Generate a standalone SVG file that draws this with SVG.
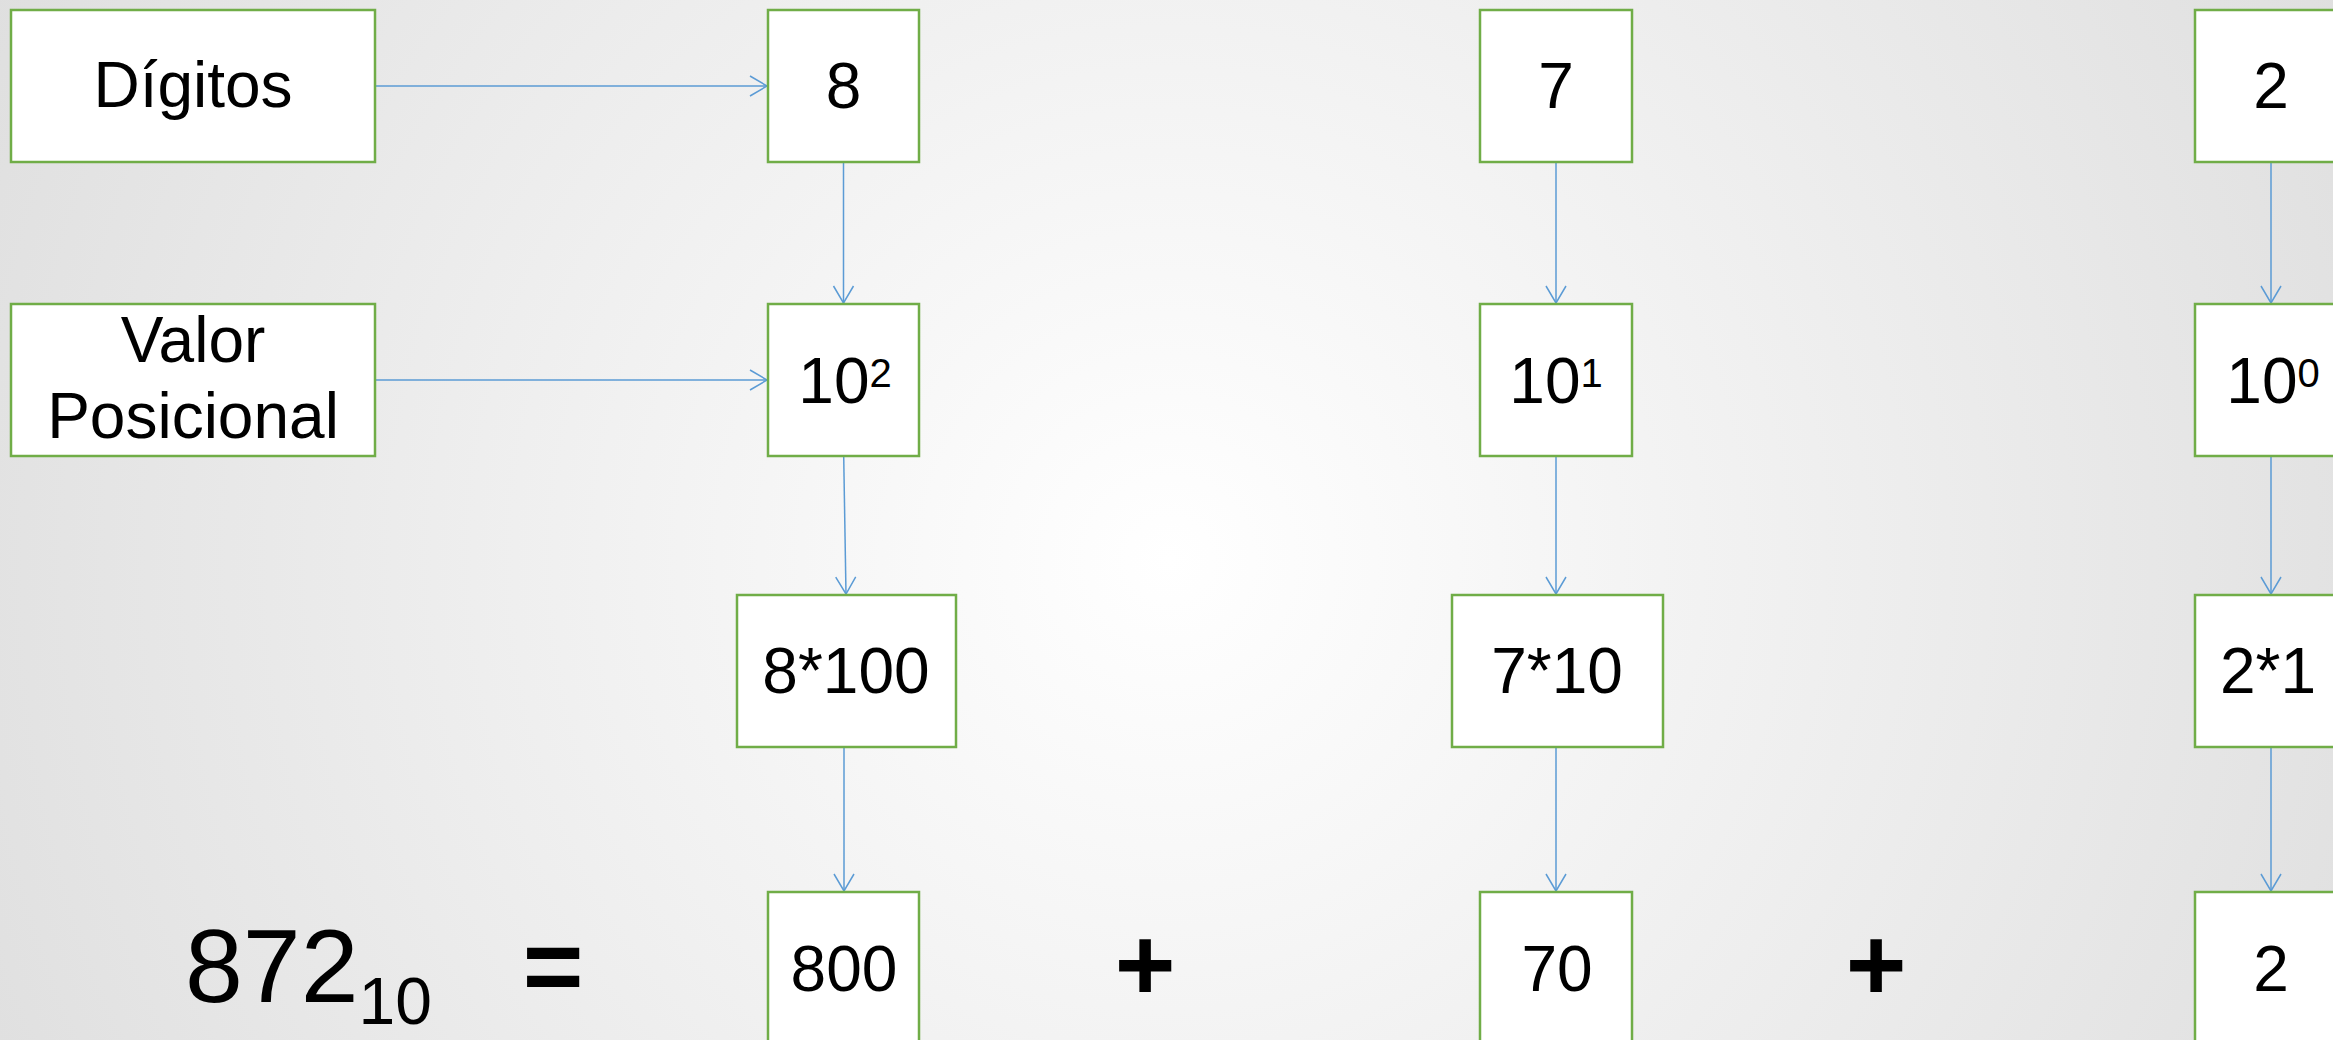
<svg xmlns="http://www.w3.org/2000/svg" width="2333" height="1040" viewBox="0 0 2333 1040">
<style>
.box{fill:#FFFFFF;stroke:#70AD47;stroke-width:2.5}
.t{font-family:"Liberation Sans",Arial,sans-serif;font-size:64px;fill:#000000;text-anchor:middle}
.big{font-family:"Liberation Sans",Arial,sans-serif;font-size:104px;fill:#000000}
.op{font-family:"Liberation Sans",Arial,sans-serif;font-size:104px;font-weight:bold;fill:#000000;text-anchor:middle}
.c{stroke:#5B9BD5;stroke-width:1.5;fill:none}
</style>
<defs>
<radialGradient id="bg" cx="1170" cy="560" r="1350" gradientUnits="userSpaceOnUse">
<stop offset="0" stop-color="#FFFFFF"/>
<stop offset="1" stop-color="#DEDEDE"/>
</radialGradient>
<marker id="arr" markerWidth="20" markerHeight="24" viewBox="-18 -12 20 24" refX="0" refY="0" orient="auto" markerUnits="userSpaceOnUse">
<path d="M-17,-10 L0,0 L-17,10" fill="none" stroke="#5B9BD5" stroke-width="1.5"/>
</marker>
</defs>
<rect x="0" y="0" width="2333" height="1040" fill="url(#bg)"/>

<g id="connectors">
<line class="c" x1="375" y1="86" x2="767" y2="86" marker-end="url(#arr)"/>
<line class="c" x1="375" y1="380" x2="767" y2="380" marker-end="url(#arr)"/>
<line class="c" x1="843.5" y1="162" x2="843.5" y2="303" marker-end="url(#arr)"/>
<line class="c" x1="843.7" y1="456" x2="846" y2="594" marker-end="url(#arr)"/>
<line class="c" x1="844" y1="747" x2="844" y2="891" marker-end="url(#arr)"/>
<line class="c" x1="1556" y1="162" x2="1556" y2="303" marker-end="url(#arr)"/>
<line class="c" x1="1556" y1="456" x2="1556" y2="594" marker-end="url(#arr)"/>
<line class="c" x1="1556" y1="747" x2="1556" y2="891" marker-end="url(#arr)"/>
<line class="c" x1="2271" y1="162" x2="2271" y2="303" marker-end="url(#arr)"/>
<line class="c" x1="2271" y1="456" x2="2271" y2="594" marker-end="url(#arr)"/>
<line class="c" x1="2271" y1="747" x2="2271" y2="891" marker-end="url(#arr)"/>
</g>

<g id="label-digitos">
<rect class="box" x="11" y="10" width="364" height="152"/>
<text class="t" x="193" y="107">Dígitos</text>
</g>
<g id="label-valor">
<rect class="box" x="11" y="304" width="364" height="152"/>
<text class="t" x="193" y="362">Valor</text>
<text class="t" x="193" y="438">Posicional</text>
</g>

<g id="d8">
<rect class="box" x="768" y="10" width="151" height="152"/>
<text class="t" x="843.5" y="108">8</text>
</g>
<g id="p2">
<rect class="box" x="768" y="304" width="151" height="152"/>
<text class="t" x="845" y="403">10<tspan font-size="40" dy="-16">2</tspan></text>
</g>
<g id="m8">
<rect class="box" x="737" y="595" width="219" height="152"/>
<text class="t" x="846" y="693">8*100</text>
</g>
<g id="r800">
<rect class="box" x="768" y="892" width="151" height="160"/>
<text class="t" x="844" y="991">800</text>
</g>

<g id="d7">
<rect class="box" x="1480" y="10" width="152" height="152"/>
<text class="t" x="1556" y="108">7</text>
</g>
<g id="p1">
<rect class="box" x="1480" y="304" width="152" height="152"/>
<text class="t" x="1556" y="403">10<tspan font-size="40" dy="-16">1</tspan></text>
</g>
<g id="m7">
<rect class="box" x="1452" y="595" width="211" height="152"/>
<text class="t" x="1557" y="693">7*10</text>
</g>
<g id="r70">
<rect class="box" x="1480" y="892" width="152" height="160"/>
<text class="t" x="1557" y="991">70</text>
</g>

<g id="d2">
<rect class="box" x="2195" y="10" width="152" height="152"/>
<text class="t" x="2271" y="108">2</text>
</g>
<g id="p0">
<rect class="box" x="2195" y="304" width="152" height="152"/>
<text class="t" x="2273" y="403">10<tspan font-size="40" dy="-16">0</tspan></text>
</g>
<g id="m2">
<rect class="box" x="2195" y="595" width="152" height="152"/>
<text class="t" x="2268" y="693">2*1</text>
</g>
<g id="r2">
<rect class="box" x="2195" y="892" width="152" height="160"/>
<text class="t" x="2271" y="991">2</text>
</g>

<g id="equation">
<text class="big" x="185" y="1002">872<tspan font-size="66" dy="22">10</tspan></text>
<text class="op" x="553" y="1002">=</text>
<text class="op" x="1145" y="1000">+</text>
<text class="op" x="1876" y="1000">+</text>
</g>
</svg>
